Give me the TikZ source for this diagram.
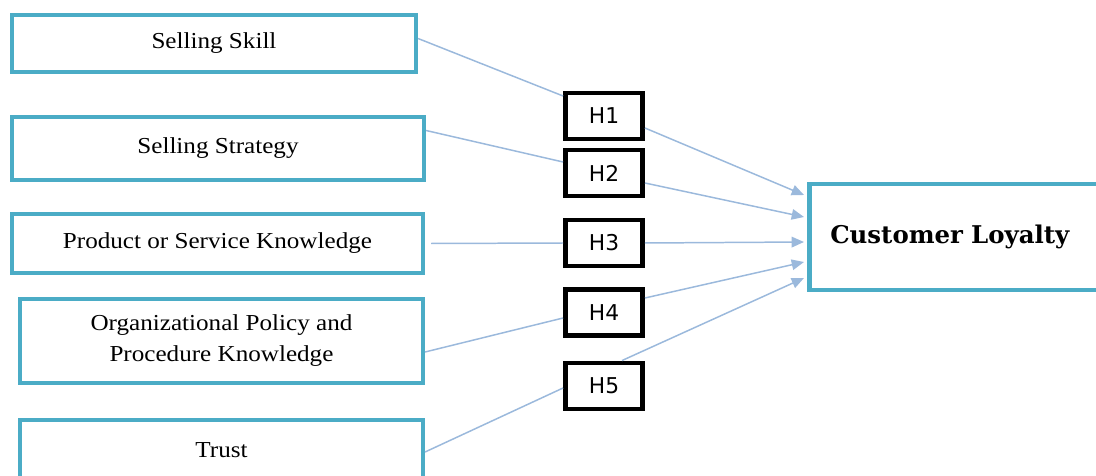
\documentclass[tikz,border=0pt]{standalone}
\usepackage{fontspec}
\setmainfont{Liberation Serif}[FakeStretch=1.1]
\newfontfamily\hypfont{DejaVu Sans}
\newfontfamily\outfont{DejaVu Serif}
\usepackage{tikz}
\usepackage{xcolor}
\usetikzlibrary{arrows.meta, positioning, calc}
\definecolor{cTeal}{RGB}{75,172,198}
\definecolor{cLine}{RGB}{155,185,220}
\tikzset{
	% construct boxes on the left
	factor/.style ={rectangle, draw=cTeal, line width=2.4pt, align=center, fill=white,
		font=\fontsize{13}{17.6}\selectfont, inner sep=2pt},
	% hypothesis boxes
	hyp/.style    ={rectangle, draw=black, line width=2.8pt, minimum width=1.54cm, minimum height=0.92cm,
		fill=white, font=\hypfont\fontsize{12.4}{14}\selectfont, inner sep=0pt},
	% dependent variable
	outcome/.style={rectangle, draw=cTeal, line width=2.6pt, minimum width=6.2cm, minimum height=2.12cm,
		text width=5.36cm, inner xsep=0.42cm, align=left, font=\outfont\bfseries\fontsize{13.9}{16}\selectfont},
	link/.style   ={draw=cLine, line width=0.85pt},
	arr/.style    ={link, -{Triangle[length=7pt, width=6pt]}},
}
\begin{document}
\begin{tikzpicture}[x=0.02cm, y=-0.02cm]
	\useasboundingbox (0,0) rectangle (1096,476);
	\clip (0,0) rectangle (1096,476);
	\node[factor, minimum width=8.08cm, minimum height=1.14cm] (sk) at (214,43.5) {Selling Skill};
	\node[factor, minimum width=8.24cm, minimum height=1.26cm] (st) at (218,148.5) {Selling Strategy};
	\node[factor, minimum width=8.22cm, minimum height=1.18cm] (pk) at (217.5,243.5) {Product or Service Knowledge};
	\node[factor, minimum width=8.06cm, minimum height=1.68cm] (ok) at (221.5,341) {Organizational Policy and\\Procedure Knowledge};
	\node[factor, minimum width=8.06cm, minimum height=1.2cm] (tr) at (221.5,450) {Trust};
	\node[hyp] (h1) at (604,116) {H1};
	\node[hyp] (h2) at (604,173) {H2};
	\node[hyp] (h3) at (604,243) {H3};
	\node[hyp] (h4) at (604,312.5) {H4};
	\node[hyp] (h5) at (604,386) {H5};
	\node[outcome, anchor=west] (cl) at (807,237) {Customer Loyalty};
	\draw[link] ($(sk.east)+(0,-5)$) -- ($(h1.west)+(0,-20)$);
	\draw[link] ($(st.east)+(0,-18)$) -- ($(h2.west)+(0,-11)$);
	\draw[link] ($(pk.east)+(6,0)$) -- (h3.west);
	\draw[link] ($(ok.east)+(0,11)$) -- ($(h4.west)+(0,5.5)$);
	\draw[link] ($(tr.east)+(0,2)$) -- ($(h5.west)+(0,2)$);
	\draw[arr] ($(h1.east)+(0,12)$) -- ($(cl.west)+(-3,-42)$);
	\draw[arr] ($(h2.east)+(0,10)$) -- ($(cl.west)+(-3,-20)$);
	\draw[arr] (h3.east) -- ($(cl.west)+(-3,5)$);
	\draw[arr] ($(h4.east)+(0,-14.5)$) -- ($(cl.west)+(-3,25)$);
	\draw[arr] ($(h5.north)+(18,0)$) -- ($(cl.west)+(-3,41)$);
\end{tikzpicture}
\end{document}
